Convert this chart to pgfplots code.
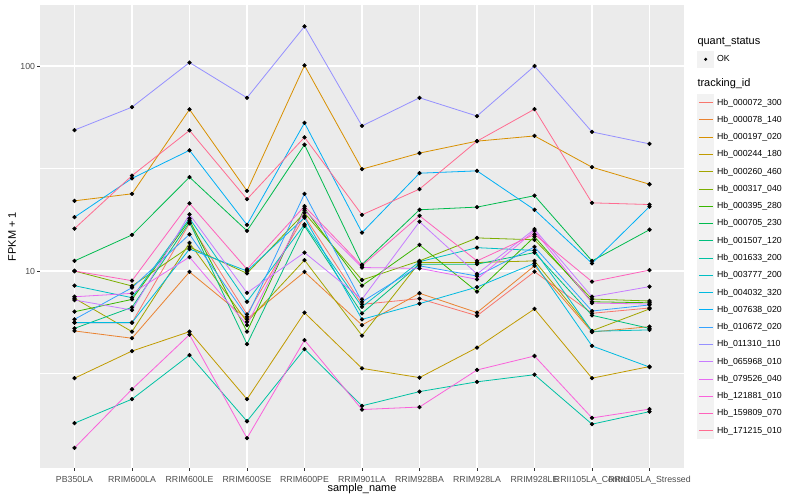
\documentclass[border=0pt]{standalone}
\usepackage{fontspec}
\setmainfont{Liberation Sans}
\usepackage{pgfplots}
\pgfplotsset{compat=1.18}
\usepackage{pgfplotstable}

\definecolor{ggpanel}{HTML}{EBEBEB}
\definecolor{ggkey}{HTML}{F2F2F2}
\definecolor{ggtext}{HTML}{4D4D4D}
\definecolor{ggtick}{HTML}{333333}
\definecolor{c072}{HTML}{F8766D}
\definecolor{c078}{HTML}{EA8331}
\definecolor{c197}{HTML}{D89000}
\definecolor{c244}{HTML}{C09B00}
\definecolor{c260}{HTML}{A3A500}
\definecolor{c317}{HTML}{7CAE00}
\definecolor{c395}{HTML}{39B600}
\definecolor{c705}{HTML}{00BB4E}
\definecolor{c1507}{HTML}{00BF7D}
\definecolor{c1633}{HTML}{00C1A3}
\definecolor{c3777}{HTML}{00BFC4}
\definecolor{c4032}{HTML}{00BAE0}
\definecolor{c7638}{HTML}{00B0F6}
\definecolor{c10672}{HTML}{35A2FF}
\definecolor{c11310}{HTML}{9590FF}
\definecolor{c65968}{HTML}{C77CFF}
\definecolor{c79526}{HTML}{E76BF3}
\definecolor{c121881}{HTML}{FA62DB}
\definecolor{c159809}{HTML}{FF62BC}
\definecolor{c171215}{HTML}{FF6C91}

% FPKM + 1 per sample (rows, x = sample index) and gene (columns)
\pgfplotstableread{
x  s072 s078 s197  s244 s260 s317 s395 s705  s1507 s1633 s3777 s4032 s7638 s10672 s11310 s65968 s79526 s121881 s159809 s171215
0  5.60 5.10 22.0  3.00 7.36 10.0 6.33 11.2  5.25  1.81  8.48  5.60  18.3  5.81   48.7   7.22   7.49   1.37    10.0    16.1
1  5.60 4.70 23.8  4.07 5.06 8.45 7.27 15.0  6.65  2.37  7.41  5.60  28.3  8.29   63.0   6.45   7.78   2.65    8.97    29.2
2  17.1 9.90 61.4  5.06 13.7 13.1 17.7 28.7  17.3  3.89  18.07 12.8  38.8  15.1   104    18.9   11.7   4.89    21.4    48.5
3  6.15 5.83 24.6  2.37 5.65 9.74 5.06 15.7  4.40  1.85  7.08  10.0  16.8  5.98   70.0   7.83   5.45   1.53    10.2    22.4
4  18.5 9.90 100.7 6.26 11.3 19.2 20.2 41.3  16.6  4.16  16.9  18.2  52.8  23.8   156    12.3   19.8   4.60    20.7    44.9
5  6.88 5.45 31.4  3.35 4.84 9.04 8.48 10.75 6.22  2.20  6.69  5.81  15.4  7.07   51.0   7.28   10.4   2.11    10.6    18.8
6  7.33 7.79 37.6  3.02 11.0 11.2 13.4 19.9  10.8  2.58  11.1  6.93  30.0  10.6   70.0   17.4   10.3   2.17    18.6    25.1
7  6.05 6.27 43.0  4.23 11.0 14.5 7.93 20.5  10.8  2.88  13.0  8.35  30.8  9.45   57.0   9.67   9.11   3.29    11.2    43.0
8  9.92 10.6 45.6  6.53 11.2 14.2 14.7 23.3  12.3  3.12  12.6  10.9  19.9  13.1   100    16.0   15.7   3.85    15.1    61.6
9  6.22 5.04 32.1  3.00 5.11 7.30 7.08 11.2  6.08  1.79  5.08  4.31  10.9  6.38   47.7   7.49   6.98   1.92    8.87    21.5
10 6.60 5.35 26.5  3.42 6.53 7.14 7.00 15.9  5.25  2.06  5.16  3.40  20.6  6.83   41.7   8.39   6.90   2.12    10.1    21.1
}\fpkm

\begin{document}
\begin{tikzpicture}
\useasboundingbox (0,0) rectangle (800bp,500bp);
\begin{axis}[
  at={(40bp,32bp)}, anchor=south west,
  scale only axis, width=644bp, height=463bp,
  xmin=-0.6, xmax=10.6,
  ymode=log, ymin=1.094, ymax=198.5,
  axis background/.style={fill=ggpanel},
  axis line style={draw=none},
  xtick={0,...,10},
  xticklabels={PB350LA,RRIM600LA,RRIM600LE,RRIM600SE,RRIM600PE,RRIM901LA,RRIM928BA,RRIM928LA,RRIM928LE,RRII105LA\_Control,RRII105LA\_Stressed},
  ytick={10,100}, yticklabels={10,100},
  minor ytick={3.1623,31.623},
  xmajorgrids, ymajorgrids, yminorgrids,
  major grid style={white, line width=1.07bp},
  minor grid style={white, line width=0.53bp},
  xtick pos=bottom, ytick pos=left,
  tick align=outside,
  major tick length=2.75bp, minor tick length=0pt,
  tick style={ggtick, line width=0.5bp},
  xticklabel style={font=\fontsize{8.8}{10}\selectfont, text=ggtext, anchor=base, yshift=-11.3bp, inner sep=0pt},
  yticklabel style={font=\fontsize{8.8}{10}\selectfont, text=ggtext, anchor=east, xshift=-2bp, inner sep=0pt},
  xlabel={sample\_name}, ylabel={FPKM + 1},
  label style={font=\fontsize{11}{13}\selectfont},
  xlabel style={at={(axis description cs:0.5,-0.0497)}, anchor=base},
  ylabel style={at={(axis description cs:-0.0435,0.5)}, anchor=center},
  legend cell align=left,
  legend style={at={(axis description cs:1.0202,0.9386)}, anchor=north west,
    draw=none, fill=none, inner sep=0pt, outer sep=0pt, row sep=0pt, column sep=0pt,
    font=\fontsize{8.8}{10}\selectfont,
    nodes={inner sep=0pt, minimum height=17.27bp}},
  legend image code/.code={
    \fill[ggkey, draw=none] (0bp,-8.63bp) rectangle (17.3bp,8.63bp);
    \draw[#1] (1.8bp,0bp) -- (15.5bp,0bp);
    \path[draw=none, fill=none] (0bp,0bp) -- (20bp,0bp);},
  every axis plot/.append style={line width=0.8bp},
]
\addlegendimage{legend image code/.code={}}
\addlegendentry{\makebox[0pt][l]{\hspace*{-20bp}\fontsize{11}{13}\selectfont quant\_status}}
\addlegendimage{legend image code/.code={
    \fill[ggkey, draw=none] (0bp,-8.63bp) rectangle (17.3bp,8.63bp);
    \fill[black, draw=none] (8.65bp,0bp) circle (1.7bp);
    \path[draw=none, fill=none] (0bp,0bp) -- (20bp,0bp);}}
\addlegendentry{OK}
\addlegendimage{legend image code/.code={
    \path[draw=none, fill=none] (0bp,-10.5bp) rectangle (1bp,15.5bp);}}
\addlegendentry{\makebox[0pt][l]{\hspace*{-20bp}\fontsize{11}{13}\selectfont tracking\_id}}

\addplot[c072, no marks] table[x=x, y=s072] {\fpkm};
\addlegendentry{Hb\_000072\_300}
\addplot[c078, no marks] table[x=x, y=s078] {\fpkm};
\addlegendentry{Hb\_000078\_140}
\addplot[c197, no marks] table[x=x, y=s197] {\fpkm};
\addlegendentry{Hb\_000197\_020}
\addplot[c244, no marks] table[x=x, y=s244] {\fpkm};
\addlegendentry{Hb\_000244\_180}
\addplot[c260, no marks] table[x=x, y=s260] {\fpkm};
\addlegendentry{Hb\_000260\_460}
\addplot[c317, no marks] table[x=x, y=s317] {\fpkm};
\addlegendentry{Hb\_000317\_040}
\addplot[c395, no marks] table[x=x, y=s395] {\fpkm};
\addlegendentry{Hb\_000395\_280}
\addplot[c705, no marks] table[x=x, y=s705] {\fpkm};
\addlegendentry{Hb\_000705\_230}
\addplot[c1507, no marks] table[x=x, y=s1507] {\fpkm};
\addlegendentry{Hb\_001507\_120}
\addplot[c1633, no marks] table[x=x, y=s1633] {\fpkm};
\addlegendentry{Hb\_001633\_200}
\addplot[c3777, no marks] table[x=x, y=s3777] {\fpkm};
\addlegendentry{Hb\_003777\_200}
\addplot[c4032, no marks] table[x=x, y=s4032] {\fpkm};
\addlegendentry{Hb\_004032\_320}
\addplot[c7638, no marks] table[x=x, y=s7638] {\fpkm};
\addlegendentry{Hb\_007638\_020}
\addplot[c10672, no marks] table[x=x, y=s10672] {\fpkm};
\addlegendentry{Hb\_010672\_020}
\addplot[c11310, no marks] table[x=x, y=s11310] {\fpkm};
\addlegendentry{Hb\_011310\_110}
\addplot[c65968, no marks] table[x=x, y=s65968] {\fpkm};
\addlegendentry{Hb\_065968\_010}
\addplot[c79526, no marks] table[x=x, y=s79526] {\fpkm};
\addlegendentry{Hb\_079526\_040}
\addplot[c121881, no marks] table[x=x, y=s121881] {\fpkm};
\addlegendentry{Hb\_121881\_010}
\addplot[c159809, no marks] table[x=x, y=s159809] {\fpkm};
\addlegendentry{Hb\_159809\_070}
\addplot[c171215, no marks] table[x=x, y=s171215] {\fpkm};
\addlegendentry{Hb\_171215\_010}

% points on top (quant_status = OK)
\pgfplotsinvokeforeach{s072,s078,s197,s244,s260,s317,s395,s705,s1507,s1633,s3777,s4032,s7638,s10672,s11310,s65968,s79526,s121881,s159809,s171215}{
  \addplot[only marks, mark=*, mark size=1.7bp, black, forget plot] table[x=x, y=#1] {\fpkm};
}
\end{axis}
\end{tikzpicture}
\end{document}
